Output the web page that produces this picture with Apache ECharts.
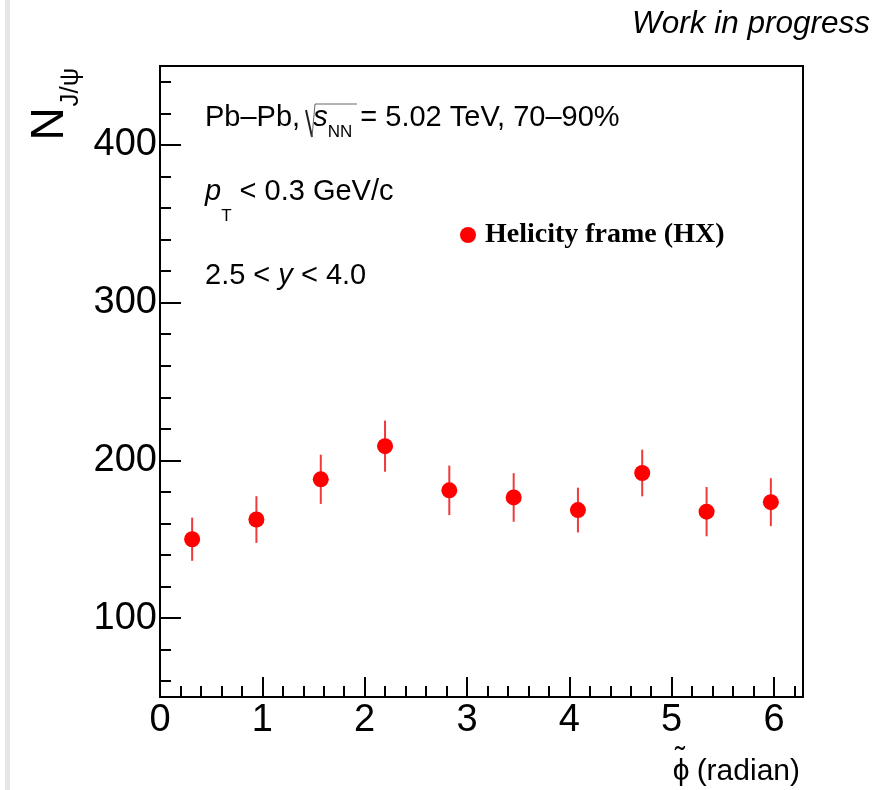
<!DOCTYPE html>
<html>
<head>
<meta charset="utf-8">
<script src="https://cdn.jsdelivr.net/npm/echarts@6/dist/echarts.min.js"></script>
<style>
  html, body { margin: 0; padding: 0; background: #fff; }
  #chart { width: 884px; height: 790px; }
</style>
</head>
<body>
<div id="chart"></div>
<script>
// phi-tilde bin centres (radian) and J/psi yields per bin
const phiCenters = [0.314, 0.942, 1.571, 2.199, 2.827, 3.456, 4.084, 4.712, 5.341, 5.969];
const nJpsi      = [150, 162.5, 188, 209, 181, 176.5, 168.5, 192, 167.5, 173.5];
const nJpsiErr   = [13.7, 14.8, 15.6, 16.2, 15.7, 15.4, 14.2, 14.8, 15.6, 15.2];

// axis ticks
const xTickLabels = [0, 1, 2, 3, 4, 5, 6];
const yTickLabels = [100, 200, 300, 400];
const xMinorTicks = [];
for (let i = 1; i <= 31; i++) xMinorTicks.push(+(i * 0.2).toFixed(1));
const yMinorTicks = [];
for (let v = 60; v <= 440; v += 20) yMinorTicks.push(v);

const SANS = '"Liberation Sans", Arial, Helvetica, sans-serif';
const SERIF = '"Liberation Serif", "Times New Roman", serif';
const X_MAX = 2 * Math.PI;

const chart = echarts.init(document.getElementById('chart'), null, { renderer: 'canvas' });

const axisLine = { show: true, onZero: false, lineStyle: { color: '#000', width: 2 } };

// rich-text styles for the annotation lines: body text plus lowered subscripts
const ANN = 29;
const body = { fontFamily: SANS, fontSize: ANN, lineHeight: 36, verticalAlign: 'top', color: '#000' };
const bodyIt = Object.assign({}, body, { fontStyle: 'italic' });
const subStyle = (drop) => ({ fontFamily: SANS, fontSize: 17, lineHeight: 17,
                              verticalAlign: 'top', padding: [drop, 0, 0, 0], color: '#000' });

chart.setOption({
  animation: false,
  backgroundColor: '#fff',
  grid: {
    left: 160, top: 66, right: 81, bottom: 93,
    show: true, borderColor: '#000', borderWidth: 2,
    outerBoundsMode: 'none'
  },
  xAxis: [
    {
      type: 'value', min: 0, max: X_MAX, position: 'bottom',
      axisLine: axisLine,
      axisTick: { show: true, inside: true, length: 20, customValues: xTickLabels,
                  lineStyle: { color: '#000', width: 2 } },
      axisLabel: { show: true, customValues: xTickLabels, margin: 5,
                   fontFamily: SANS, fontSize: 38, color: '#000' },
      splitLine: { show: false }
    },
    {
      type: 'value', min: 0, max: X_MAX, position: 'bottom',
      axisLine: { show: false },
      axisTick: { show: true, inside: true, length: 11, customValues: xMinorTicks,
                  lineStyle: { color: '#000', width: 2 } },
      axisLabel: { show: false },
      splitLine: { show: false }
    }
  ],
  yAxis: [
    {
      type: 'value', min: 50, max: 450, position: 'left',
      axisLine: axisLine,
      axisTick: { show: true, inside: true, length: 21, customValues: yTickLabels,
                  lineStyle: { color: '#000', width: 2 } },
      axisLabel: { show: true, customValues: yTickLabels, margin: 3,
                   fontFamily: SANS, fontSize: 38, color: '#000' },
      splitLine: { show: false }
    },
    {
      type: 'value', min: 50, max: 450, position: 'left',
      axisLine: { show: false },
      axisTick: { show: true, inside: true, length: 11, customValues: yMinorTicks,
                  lineStyle: { color: '#000', width: 2 } },
      axisLabel: { show: false },
      splitLine: { show: false }
    }
  ],
  legend: {
    data: ['Helicity frame (HX)'],
    left: 455, top: 216,
    icon: 'circle', itemWidth: 16, itemHeight: 16,
    textStyle: { fontFamily: SERIF, fontWeight: 'bold', fontSize: 28, color: '#000',
                 padding: [0, 0, 0, 4] },
    selectedMode: false
  },
  series: [
    {
      type: 'custom',
      xAxisIndex: 0, yAxisIndex: 0,
      data: phiCenters.map((x, i) => [x, nJpsi[i], nJpsiErr[i]]),
      encode: { x: 0, y: 1 },
      renderItem: function (params, api) {
        const x = api.value(0), y = api.value(1), e = api.value(2);
        const top = api.coord([x, y + e]);
        const bot = api.coord([x, y - e]);
        return {
          type: 'line',
          shape: { x1: top[0], y1: top[1], x2: bot[0], y2: bot[1] },
          style: { stroke: '#f03a3a', lineWidth: 2 }
        };
      },
      z: 2
    },
    {
      name: 'Helicity frame (HX)',
      type: 'scatter',
      xAxisIndex: 0, yAxisIndex: 0,
      data: phiCenters.map((x, i) => [x, nJpsi[i]]),
      symbol: 'circle', symbolSize: 16,
      itemStyle: { color: '#ff0000', opacity: 1 },
      z: 3
    }
  ],
  graphic: [
    // faint vertical strip along the left edge
    { type: 'rect', shape: { x: 5, y: 0, width: 5, height: 790 },
      style: { fill: '#e6e6e6' }, silent: true },
    // status tag
    { type: 'text', x: 870, y: 24,
      style: { text: 'Work in progress', fontFamily: SANS, fontStyle: 'italic',
               fontSize: 31.5, fill: '#000', align: 'right', verticalAlign: 'middle' } },
    // collision system line
    { type: 'text', x: 205, y: 103,
      style: {
        text: '{m|Pb–Pb, }{g| }{i|s}{sub|NN}{m| = 5.02 TeV, 70–90%}',
        align: 'left', verticalAlign: 'top',
        rich: { m: body, i: bodyIt, sub: subStyle(20.7),
                g: { fontFamily: SANS, fontSize: ANN, lineHeight: 36, width: 5, verticalAlign: 'top' } }
      } },
    // square-root sign over s_NN
    { type: 'polyline', shape: { points: [[306, 110], [312, 137]] },
      style: { stroke: '#222', lineWidth: 2, fill: null } },
    { type: 'polyline', shape: { points: [[312, 137], [315, 104], [357, 104]] },
      style: { stroke: '#666', lineWidth: 1, fill: null } },
    // transverse momentum cut
    { type: 'text', x: 205, y: 177.5,
      style: {
        text: '{i|p}{sub|T}{m| < 0.3 GeV/c}',
        align: 'left', verticalAlign: 'top',
        rich: { m: body, i: bodyIt, sub: subStyle(30.5) }
      } },
    // rapidity range
    { type: 'text', x: 205, y: 261,
      style: {
        text: '{m|2.5 < }{i|y}{m| < 4.0}',
        align: 'left', verticalAlign: 'top',
        rich: { m: body, i: bodyIt }
      } },
    // y-axis title, rotated to read upwards: N with subscript J/psi
    { type: 'text', x: 50, y: 124, rotation: Math.PI / 2,
      style: { text: 'N', fontFamily: SANS, fontSize: 46, fill: '#000',
               align: 'center', verticalAlign: 'middle' } },
    { type: 'text', x: 71, y: 87, rotation: Math.PI / 2,
      style: { text: 'J/ψ', fontFamily: SANS, fontSize: 26, fill: '#000',
               align: 'center', verticalAlign: 'middle' } },
    // x-axis title: phi-tilde (radian)
    { type: 'text', x: 800, y: 772,
      style: { text: '(radian)', fontFamily: SANS, fontSize: 30, fill: '#000',
               align: 'right', verticalAlign: 'middle' } },
    { type: 'text', x: 689.5, y: 772,
      style: { text: 'ϕ', fontFamily: SANS, fontSize: 30, fill: '#000',
               align: 'right', verticalAlign: 'middle' } },
    { type: 'text', x: 680, y: 759,
      style: { text: '˜', fontFamily: SANS, fontSize: 30, fill: '#000',
               align: 'center', verticalAlign: 'middle' } }
  ]
});
</script>
</body>
</html>
